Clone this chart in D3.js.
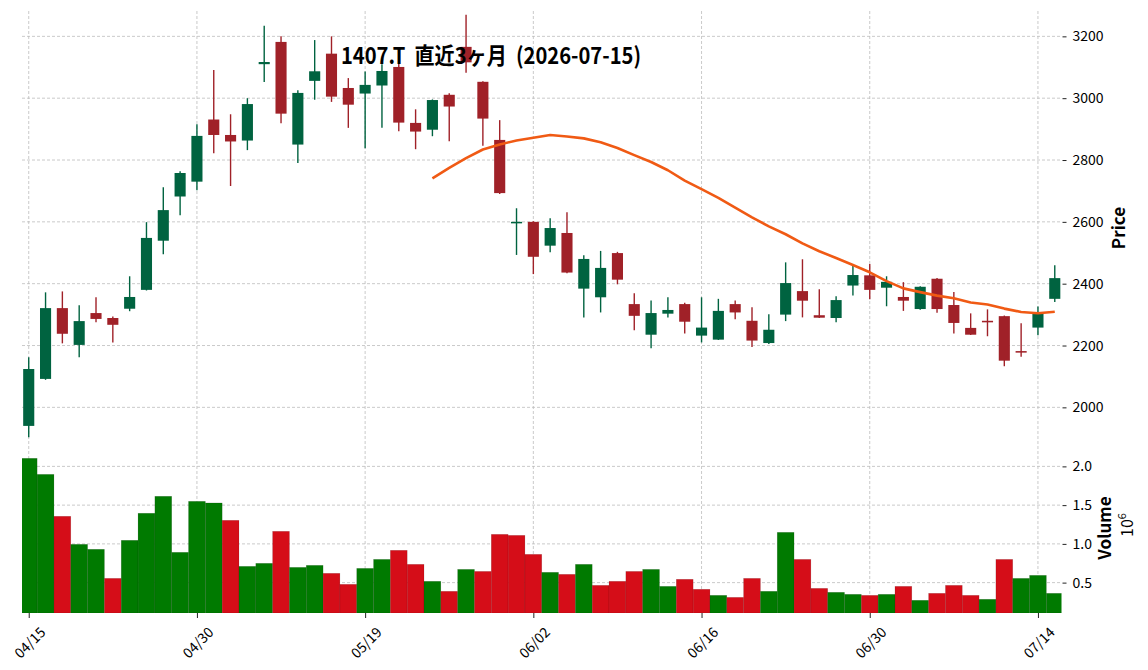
<!DOCTYPE html>
<html>
<head>
<meta charset="utf-8">
<script src="https://cdn.jsdelivr.net/npm/d3@7"></script>
<style>
  body { margin: 0; background: #fff; }
  svg { display: block; }
  text { font-family: "Noto Sans CJK JP", "Noto Sans", sans-serif; fill: #000; }
</style>
</head>
<body>
<div id="chart"></div>
<script>
const dates = ["04/15","04/16","04/17","04/20","04/21","04/22","04/23","04/24","04/27","04/28","04/30",
  "05/01","05/07","05/08","05/11","05/12","05/13","05/14","05/15","05/18","05/19","05/20","05/21","05/22","05/25","05/26","05/27","05/28","05/29",
  "06/01","06/02","06/03","06/04","06/05","06/08","06/09","06/10","06/11","06/12","06/15","06/16","06/17","06/18","06/19","06/22","06/23","06/24","06/25","06/26","06/29","06/30",
  "07/01","07/02","07/03","07/06","07/07","07/08","07/09","07/10","07/13","07/14","07/15"];

const opens  = [1940,2092,2321,2202,2305,2289,2319,2380,2539,2682,2730,2931,2881,2863,3110,3182,2850,3056,3144,3033,
  3015,3041,3101,2920,2898,3011,3166,3053,2865,2597,2600,2523,2564,2384,2356,2499,2334,2235,2303,2334,
  2232,2219,2334,2280,2208,2300,2376,2298,2289,2394,2427,2387,2357,2318,2416,2331,2257,2280,2295,2182,2258,2351];
const highs  = [2162,2372,2375,2330,2356,2294,2424,2599,2712,2764,2916,3091,2948,3000,3234,3200,3026,3188,3200,3065,
  3086,3110,3130,2964,2996,3016,3270,3055,2929,2644,2602,2612,2631,2492,2506,2503,2369,2346,2356,2338,
  2356,2351,2346,2324,2301,2469,2479,2382,2359,2463,2464,2424,2405,2392,2418,2373,2304,2317,2297,2272,2326,2460];
const lows   = [1903,2089,2207,2162,2275,2210,2311,2378,2495,2621,2702,2822,2716,2832,3052,2919,2790,2995,2988,2904,
  2838,2904,2893,2835,2877,2861,3082,2846,2690,2493,2431,2502,2434,2291,2307,2398,2249,2191,2291,2239,
  2210,2218,2285,2195,2205,2279,2291,2289,2275,2362,2350,2327,2312,2316,2306,2239,2234,2230,2133,2164,2233,2341];
const closes = [2124,2321,2238,2279,2286,2267,2357,2548,2638,2758,2878,2881,2860,2981,3117,2950,3017,3087,3005,2979,
  3043,3088,2921,2892,2994,2973,3116,2934,2693,2600,2487,2580,2436,2480,2451,2413,2296,2305,2315,2277,
  2258,2312,2307,2216,2251,2402,2345,2290,2347,2428,2380,2406,2345,2390,2318,2273,2235,2275,2151,2177,2306,2418];

// volume in millions of shares
const volumes = [2.104,1.897,1.356,0.994,0.930,0.555,1.046,1.395,1.614,0.891,1.549,1.528,1.304,0.710,0.749,1.162,0.697,0.723,0.620,0.478,
  0.684,0.800,0.917,0.736,0.517,0.388,0.671,0.645,1.123,1.110,0.865,0.633,0.607,0.736,0.465,0.517,0.645,0.671,0.452,0.543,
  0.414,0.336,0.310,0.555,0.388,1.149,0.800,0.426,0.375,0.349,0.336,0.349,0.452,0.272,0.362,0.465,0.336,0.285,0.800,0.555,0.594,0.362];

// 25-day moving average, first value at index 24
const maStart = 24;
const ma25 = [2740.4,2774.3,2806.1,2834.0,2850.5,2863.1,2871.9,2880.8,2876.3,2870.0,2857.7,2839.1,2815.7,2793.5,2766.9,
  2733.3,2705.6,2677.4,2646.2,2614.6,2585.5,2559.9,2530.2,2504.9,2483.1,2460.5,2436.8,2408.4,2384.8,2372.7,
  2361.4,2352.8,2339.0,2332.6,2319.4,2308.5,2304.2,2309.1];

const xTickIdx = [0, 10, 20, 30, 40, 50, 60];
const priceTicks = [2000, 2200, 2400, 2600, 2800, 3000, 3200];
const volTicks = [0.5, 1.0, 1.5, 2.0];
const title = "1407.T  直近3ヶ月  (2026-07-15)";

const width = 1148, height = 670;
const left = 22, right = 1061.5;
const pTop = 11, pBot = 446, vTop = 446, vBot = 613;

const svg = d3.select("#chart").append("svg")
  .attr("width", width).attr("height", height);

const x = d3.scaleLinear().domain([-0.4, 61.4]).range([left, right]);
const step = x(1) - x(0);
const yP = d3.scaleLinear().domain([1875, 3282]).range([pBot, pTop]);
const yV = d3.scaleLinear().domain([0.108, 2.263]).range([vBot, vTop]);

const upC = "#006340", downC = "#a02128";
const vUp = "#007a00", vDown = "#d50d18";
const gridC = "#bdbdbd";

svg.append("clipPath").attr("id", "clipV")
  .append("rect").attr("x", left).attr("y", vTop).attr("width", right - left).attr("height", vBot - vTop);

// grid
const grid = svg.append("g").attr("stroke", gridC).attr("stroke-width", 0.8).attr("stroke-dasharray", "3,2");
xTickIdx.forEach(i => {
  grid.append("line").attr("x1", x(i)).attr("x2", x(i)).attr("y1", pTop).attr("y2", vBot);
});
priceTicks.forEach(p => {
  grid.append("line").attr("x1", left).attr("x2", right).attr("y1", yP(p)).attr("y2", yP(p));
});
volTicks.forEach(v => {
  grid.append("line").attr("x1", left).attr("x2", right).attr("y1", yV(v)).attr("y2", yV(v));
});

// volume bars
svg.append("g").attr("clip-path", "url(#clipV)")
  .selectAll("rect").data(volumes).join("rect")
  .attr("x", (d, i) => x(i) - step / 2)
  .attr("width", step)
  .attr("y", d => yV(d))
  .attr("height", d => vBot - yV(d))
  .attr("fill", (d, i) => (i === 0 ? closes[0] >= opens[0] : closes[i] >= closes[i - 1]) ? vUp : vDown)
  .attr("stroke", "rgba(0,0,0,0.18)")
  .attr("stroke-width", 0.6);

// candles
const idx = d3.range(opens.length);
const candles = svg.append("g");
candles.selectAll("line").data(idx).join("line")
  .attr("x1", i => x(i)).attr("x2", i => x(i))
  .attr("y1", i => yP(highs[i])).attr("y2", i => yP(lows[i]))
  .attr("stroke", i => closes[i] >= opens[i] ? upC : downC)
  .attr("stroke-width", 1.4);
const bodyW = step * 0.66;
candles.selectAll("rect").data(idx).join("rect")
  .attr("x", i => x(i) - bodyW / 2)
  .attr("width", bodyW)
  .attr("y", i => yP(Math.max(opens[i], closes[i])))
  .attr("height", i => Math.max(1.5, Math.abs(yP(opens[i]) - yP(closes[i]))))
  .attr("fill", i => closes[i] >= opens[i] ? upC : downC);

// moving average
const line = d3.line().x(d => x(d[0])).y(d => yP(d[1]));
svg.append("path")
  .datum(ma25.map((v, k) => [k + maStart, v]))
  .attr("d", line)
  .attr("fill", "none")
  .attr("stroke", "#f05a14")
  .attr("stroke-width", 2.6)
  .attr("stroke-linejoin", "round");

// axes
const pAxis = svg.append("g").attr("transform", `translate(${right + 1},0)`)
  .call(d3.axisRight(yP).tickValues(priceTicks).tickFormat(d3.format("d")).tickSize(4).tickPadding(6));
const vAxis = svg.append("g").attr("transform", `translate(${right + 1},0)`)
  .call(d3.axisRight(yV).tickValues(volTicks).tickFormat(d3.format(".1f")).tickSize(4).tickPadding(6));
const xAxis = svg.append("g").attr("transform", `translate(0,${vBot})`)
  .call(d3.axisBottom(x).tickValues(xTickIdx).tickFormat(i => dates[i]).tickSize(5));

[pAxis, vAxis, xAxis].forEach(g => {
  g.select(".domain").remove();
  g.selectAll(".tick line").attr("stroke", "#222").attr("stroke-width", 1);
  g.selectAll("text").attr("font-size", 14).attr("fill", "#111");
});
xAxis.selectAll(".tick text")
  .attr("y", 0).attr("dy", 0)
  .attr("text-anchor", "middle")
  .attr("dominant-baseline", "central")
  .attr("transform", "translate(0,29) rotate(-45)");

// labels
svg.append("text")
  .attr("transform", "translate(1125,228) rotate(-90)")
  .attr("text-anchor", "middle")
  .attr("font-size", 17).attr("font-weight", "bold")
  .text("Price");
svg.append("text")
  .attr("transform", "translate(1111,528) rotate(-90)")
  .attr("text-anchor", "middle")
  .attr("font-size", 17).attr("font-weight", "bold")
  .text("Volume");
const off = svg.append("text")
  .attr("transform", "translate(1133,525) rotate(-90)")
  .attr("text-anchor", "middle")
  .attr("font-size", 16);
off.append("tspan").text("10");
off.append("tspan").attr("font-size", 11).attr("dy", -7).text("6");

// title
svg.append("text")
  .attr("x", 341).attr("y", 64)
  .attr("font-size", 23).attr("font-weight", "bold")
  .attr("textLength", 300)
  .attr("lengthAdjust", "spacingAndGlyphs")
  .style("white-space", "pre")
  .text(title);
</script>
</body>
</html>
